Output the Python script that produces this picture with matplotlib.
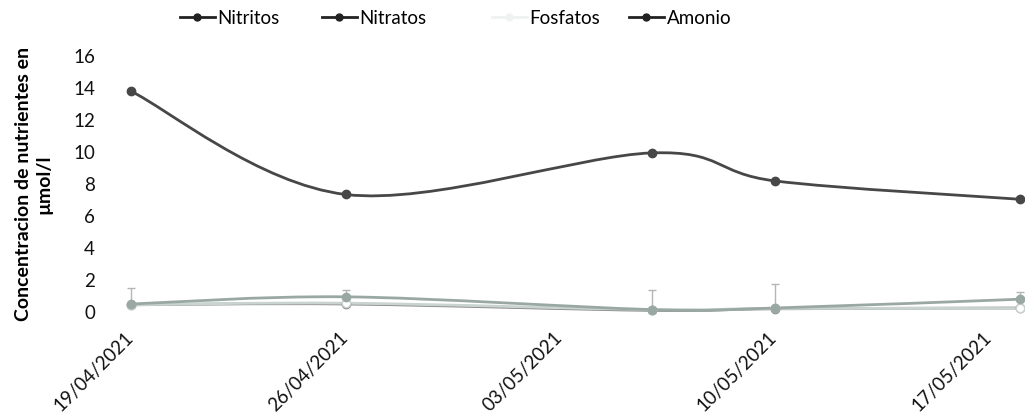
import datetime as dt
import matplotlib
matplotlib.use("Agg")
import matplotlib.pyplot as plt
import matplotlib.dates as mdates
import matplotlib.transforms as mtransforms
from matplotlib.path import Path
from matplotlib.patches import PathPatch
from matplotlib.lines import Line2D
import numpy as np

plt.rcParams['font.family'] = ['Lato', 'DejaVu Sans']

# sampling dates and tick dates
fechas = ["2021-04-19", "2021-04-26", "2021-05-06", "2021-05-10", "2021-05-18"]
tick_fechas = ["2021-04-19", "2021-04-26", "2021-05-03", "2021-05-10", "2021-05-17"]
tick_labels = ["19/04/2021", "26/04/2021", "03/05/2021", "10/05/2021", "17/05/2021"]

# concentrations (umol/l)
nitritos = [0.45, 0.50, 0.10, 0.20, 0.25]
nitratos = [13.8, 7.35, 9.95, 8.2, 7.05]
fosfatos = [0.45, 0.55, 0.15, 0.22, 0.22]
amonio = [0.50, 0.95, 0.15, 0.25, 0.80]
amonio_err = [1.0, 0.45, 1.2, 1.5, 0.45]

legend_names = ["Nitritos", "Nitratos", "Fosfatos", "Amonio"]


def to_num(lst):
    return mdates.date2num([dt.datetime.strptime(s, "%Y-%m-%d") for s in lst])


def smooth_path(ax, x, y):
    """Excel-like smoothed line: Catmull-Rom bezier built in display space."""
    pts = ax.transData.transform(np.column_stack([x, y]))
    p = np.vstack([pts[0], pts, pts[-1]])
    verts = [pts[0]]
    codes = [Path.MOVETO]
    for i in range(1, len(p) - 2):
        c1 = p[i] + (p[i + 1] - p[i - 1]) / 6
        c2 = p[i + 1] - (p[i + 2] - p[i]) / 6
        verts += [c1, c2, p[i + 1]]
        codes += [Path.CURVE4] * 3
    verts = ax.transData.inverted().transform(np.array(verts))
    return Path(verts, codes)


x = to_num(fechas)

fig = plt.figure(figsize=(10.25, 4.16), dpi=100)
ax = fig.add_axes([0.128, 0.25, 0.867, 0.615])
ax.set_xlim(x[0], x[-1])
ax.set_ylim(0, 16)

series = [
    ("Nitritos", nitritos, "#8a8a8a", "#8a8a8a"),
    ("Fosfatos", fosfatos, "#c9d3cf", "white"),
    ("Amonio", amonio, "#9aa8a3", "#9aa8a3"),
    ("Nitratos", nitratos, "#474747", "#474747"),
]
for name, vals, col, face in series:
    ax.add_patch(PathPatch(smooth_path(ax, x, vals), fill=False,
                           edgecolor=col, lw=2, clip_on=False))
    ax.plot(x, vals, ls="none", marker="o", ms=6, mfc=face, mec=col,
            clip_on=False, zorder=4)

ax.errorbar(x, amonio, yerr=[np.zeros(len(amonio)), amonio_err], fmt="none",
            ecolor="#b5b5b5", elinewidth=1, capsize=3, clip_on=False, zorder=3)

ax.set_yticks(range(0, 17, 2))
ax.set_xticks(to_num(tick_fechas))
ax.set_xticklabels(tick_labels, rotation=45, ha="right", va="top",
                   rotation_mode="anchor")
ax.tick_params(axis="x", length=0, pad=12, labelsize=13.5, colors="#111111")
ax.tick_params(axis="y", length=0, pad=26, labelsize=13.5, colors="#111111")
shift = mtransforms.ScaledTranslation(-0.07, 0, fig.dpi_scale_trans)
for lab in ax.get_xticklabels():
    lab.set_transform(lab.get_transform() + shift)
for s in ax.spines.values():
    s.set_visible(False)

ax.set_ylabel("Concentracion de nutrientes en\nµmol/l", fontsize=14,
              fontweight="bold", labelpad=15, linespacing=1.25)

# legend entries placed one by one (uneven spacing as in the original)
handle_cols = ["#222222", "#222222", "#f0f2f1", "#222222"]
handle_x = [180, 322, 492, 629]
for name, col, hx in zip(legend_names, handle_cols, handle_x):
    h = Line2D([], [], color=col, lw=2, marker="o", ms=5)
    fig.legend([h], [name], loc="center left",
               bbox_to_anchor=(hx / 1025, 1 - 18 / 416), frameon=False,
               fontsize=13.5, handlelength=1.85, handletextpad=0.15,
               borderpad=0, borderaxespad=0)

fig.savefig("out.png", dpi=100)
